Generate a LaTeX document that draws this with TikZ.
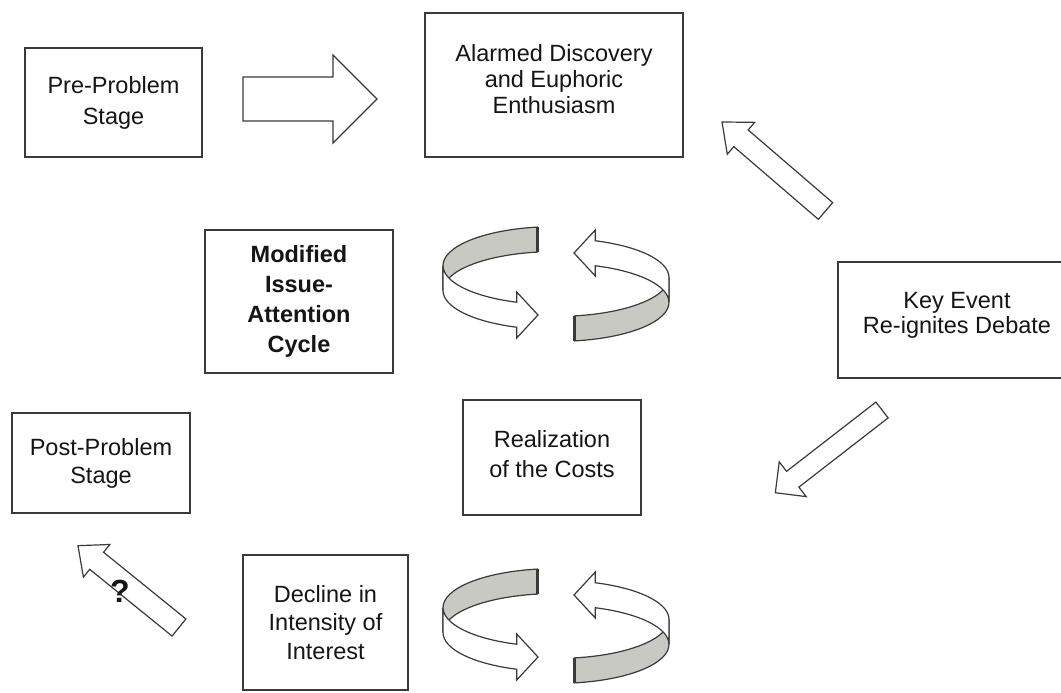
\documentclass[tikz,border=0pt]{standalone}
\usepackage{fontspec}
\setmainfont{Liberation Sans}
\begin{document}
\begin{tikzpicture}[x=1pt,y=1pt]
\definecolor{boxline}{HTML}{3A3A3A}
\definecolor{txt}{HTML}{151515}
\definecolor{ribbon}{HTML}{C9C9C4}
\tikzset{
  box/.style={draw=boxline, line width=1.3pt, align=center, inner sep=0pt, text=txt},
  lbl/.style={font=\fontsize{23.5}{#1}\selectfont},
  blockarrow/.style={draw=boxline, line width=1.2pt, fill=white, line join=miter},
  ringgray/.style={draw=boxline, line width=1.2pt, fill=ribbon},
  ringwhite/.style={draw=boxline, line width=1.2pt, fill=white},
  halfring/.pic={
    \filldraw[ringgray] (-17.52,38.52) arc[start angle=99, end angle=180, x radius=112pt, y radius=39pt]
       -- ++(0,-25) arc[start angle=180, end angle=99, x radius=112pt, y radius=39pt] -- cycle;
    \draw[boxline, line width=2.2pt] (-17.52,38.52) -- (-17.52,13.52);
    \filldraw[ringwhite] (-112,0) arc[start angle=180, end angle=250, x radius=112pt, y radius=39pt]
       -- (-38.3,-26.4) -- (-17,-49.4) -- (-38.3,-72.4) -- (-38.3,-61.65)
       arc[start angle=250, end angle=180, x radius=112pt, y radius=39pt] -- cycle;
  }
}
\newcommand\BlkArrow[7]{%
  \draw[blockarrow, shift={(#1,#2)}, rotate=#3]
    (0,-#5) -- ({#4-#7},-#5) -- ({#4-#7},-#6) -- (#4,0) -- ({#4-#7},#6) -- ({#4-#7},#5) -- (0,#5) -- cycle;}
\clip (0,0) rectangle (1061,693);
\fill[white] (0,0) rectangle (1061,693);

% boxes
\node[box, lbl=31, minimum width=177pt, minimum height=109pt] (pre) at (113.5,590.5) {Pre-Problem\\Stage};
\node[box, lbl=26, text depth=12pt, minimum width=258pt, minimum height=144pt] (alarm) at (554,608) {Alarmed Discovery\\and Euphoric\\Enthusiasm};
\node[box, font=\fontsize{23.5}{30}\selectfont\bfseries, minimum width=188pt, minimum height=143pt] (mod) at (299,391.5) {Modified\\Issue-\\Attention\\Cycle};
\node[box, lbl=25, text depth=15pt, minimum width=238pt, minimum height=116pt] (key) at (957,373) {Key Event\\Re-ignites Debate};
\node[box, lbl=30, text depth=8pt, minimum width=178pt, minimum height=115pt] (real) at (552,235.5) {Realization\\of the Costs};
\node[box, lbl=28, minimum width=178pt, minimum height=100pt] (post) at (101,230) {Post-Problem\\Stage};
\node[box, lbl=28.5, minimum width=165pt, minimum height=135pt] (decl) at (325.5,70.5) {Decline in\\Intensity of\\Interest};

% block arrows
\BlkArrow{243}{594}{0}{134}{22}{44}{44}
\BlkArrow{825.5}{482}{139.3}{136.5}{11}{21}{25}
\BlkArrow{882}{283}{217.8}{135}{10}{22}{22}
\BlkArrow{179}{65.5}{141}{130}{11}{21}{24}
\node[text=txt, font=\fontsize{32}{32}\selectfont\bfseries, inner sep=0pt] (qm) at (120,102) {?};

% rotating ribbons
\pic at (555,427.4) {halfring};
\pic[rotate=180] at (557,390.6) {halfring};
\pic at (555,85.4) {halfring};
\pic[rotate=180] at (557,48.6) {halfring};
\end{tikzpicture}
\end{document}
